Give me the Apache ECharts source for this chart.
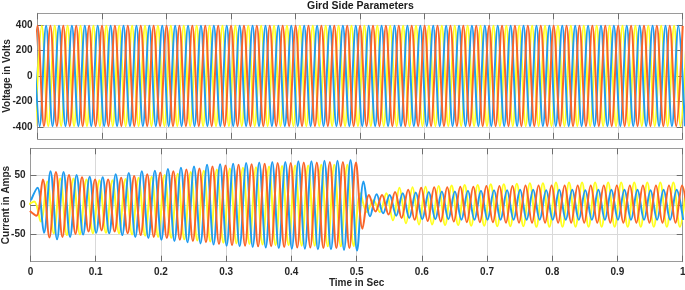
<!DOCTYPE html>
<html><head><meta charset="utf-8">
<script src="https://cdn.jsdelivr.net/npm/echarts@6/dist/echarts.min.js"></script>
<style>html,body{margin:0;padding:0;background:#fff}#c{width:685px;height:290px}</style>
</head><body><div id="c"></div>
<script>
// ---- axis / tick data ----
const timeMin = 0, timeMax = 1, timeStep = 0.1;
const voltTicks = [-400, -200, 0, 200, 400];
const currTicks = [-50, 0, 50];
const halfPeriod = 0.01;            // 50 Hz -> successive peaks every 10 ms

// ---- Voltage: successive half-cycle peak values (V) per phase ----
const voltStartA = -0.01, voltStartB = -0.00333, voltStartC = -0.00667;
const voltA = [-392,392,-392,392,-392,392,-392,392,-392,392,-392,392,-392,392,-392,392,-392,392,-392,392,
-392,392,-392,392,-392,392,-392,392,-392,392,-392,392,-392,392,-392,392,-392,392,-392,392,
-392,392,-392,392,-392,392,-392,392,-392,392,-392,392,-392,392,-392,392,-392,392,-392,392,
-392,392,-392,392,-392,392,-392,392,-392,392,-392,392,-392,392,-392,392,-392,392,-392,392,
-392,392,-392,392,-392,392,-392,392,-392,392,-392,392,-392,392,-392,392,-392,392,-392,392,-392,392];
const voltB = [-392,392,-392,392,-392,392,-392,392,-392,392,-392,392,-392,392,-392,392,-392,392,-392,392,
-392,392,-392,392,-392,392,-392,392,-392,392,-392,392,-392,392,-392,392,-392,392,-392,392,
-392,392,-392,392,-392,392,-392,392,-392,392,-392,392,-392,392,-392,392,-392,392,-392,392,
-392,392,-392,392,-392,392,-392,392,-392,392,-392,392,-392,392,-392,392,-392,392,-392,392,
-392,392,-392,392,-392,392,-392,392,-392,392,-392,392,-392,392,-392,392,-392,392,-392,392,-392,392];
const voltC = [392,-392,392,-392,392,-392,392,-392,392,-392,392,-392,392,-392,392,-392,392,-392,392,-392,
392,-392,392,-392,392,-392,392,-392,392,-392,392,-392,392,-392,392,-392,392,-392,392,-392,
392,-392,392,-392,392,-392,392,-392,392,-392,392,-392,392,-392,392,-392,392,-392,392,-392,
392,-392,392,-392,392,-392,392,-392,392,-392,392,-392,392,-392,392,-392,392,-392,392,-392,
392,-392,392,-392,392,-392,392,-392,392,-392,392,-392,392,-392,392,-392,392,-392,392,-392,392,-392];

// ---- Current: successive half-cycle peak values (A) per phase ----
const currStartBlue = 0.0007, currStartOrange = -0.001, currStartYellow = -0.0043;
const currBlue = [8,29,-47,57,-58,56,-54,51,-50,48,
-47,47,-48,52,-51,54,-54,57,-56,58,
-59,61,-61,63,-63,65,-65,68,-67,69,
-69,70,-70,71,-71,72,-72,73,-73,73,
-74,74,-74,74,-75,75,-75,75,-76,76,
-77,40,-19,18,-14,17,-18,20,-22,21,
-24,22,-24,23,-24,23,-25,24,-25,24,
-25,25,-25,25,-25,26,-25,26,-25,25,
-25,26,-25,26,-25,25,-25,26,-25,26,
-25,26,-25,26,-25,25,-25,26,-25,26,
-25];
const currOrange = [-10,-18,43,-55,56,-54,51,-49,47,-45,
43,-43,43,-45,46,-48,49,-51,52,-54,
55,-56,57,-59,60,-61,62,-63,65,-66,
67,-68,68,-69,69,-70,70,-70,71,-71,
71,-72,72,-72,72,-73,73,-73,73,-73,
72,-40,17,-11,17,-16,22,-22,26,-25,
29,-27,30,-28,30,-28,31,-29,31,-29,
32,-29,32,-30,32,-30,33,-30,33,-30,
33,-30,33,-30,33,-30,33,-30,33,-30,
33,-30,33,-30,33,-30,33,-30,33,-30,
33,-30];
const currYellow = [0,6,-28,40,-48,45,-51,45,-50,43,
-48,42,-47,42,-48,44,-50,46,-52,48,
-54,51,-56,53,-58,56,-60,58,-62,60,
-64,62,-65,63,-66,64,-67,65,-68,66,
-68,67,-69,67,-69,68,-70,68,-70,68,
-70,20,-12,8,-12,20,-26,29,-31,30,
-33,31,-33,32,-34,33,-34,34,-35,34,
-35,35,-36,35,-36,36,-36,37,-37,37,
-37,38,-37,38,-37,38,-37,38,-37,38,
-37,38,-37,38,-37,38,-37,38,-37,38,
-37,38];

// ---- build [time, value] pairs ----
function pairs(start, vals) { return vals.map((v, i) => [start + i * halfPeriod, v]); }

const FONT = "'Liberation Sans', Arial, Helvetica, sans-serif";
const TXT = '#262626', FRAME = '#9a9a9a', TICK = '#6e6e6e', GRID = '#d9d9d9';
const BLUE = '#1f9cf0', ORANGE = '#fa6428', YELLOW = '#ffff1e';

function xAx(grid, pos, labels) {
  return {
    type: 'value', gridIndex: grid, position: pos, min: timeMin, max: timeMax, interval: timeStep,
    nameMoveOverlap: false,
    axisLine: { show: true, onZero: false, lineStyle: { color: FRAME, width: 1 } },
    axisTick: { show: true, inside: true, length: 6, lineStyle: { color: TICK } },
    axisLabel: { show: labels, fontSize: 10, fontWeight: 'bold', color: TXT, fontFamily: FONT, margin: 6 },
    splitLine: { show: pos === 'bottom', lineStyle: { color: GRID, width: 1 } }
  };
}
function yAx(grid, pos, lo, hi, ticks, name, gap) {
  return {
    type: 'value', gridIndex: grid, position: pos, min: lo, max: hi,
    name: name || '', nameLocation: 'middle', nameGap: gap || 0, nameMoveOverlap: false,
    nameTextStyle: { fontSize: 10, fontWeight: 'bold', color: TXT, fontFamily: FONT },
    axisLine: { show: true, onZero: false, lineStyle: { color: FRAME, width: 1 } },
    axisTick: { show: true, inside: true, length: 6, customValues: ticks, lineStyle: { color: TICK } },
    axisLabel: { show: pos === 'left', customValues: ticks, fontSize: 10, fontWeight: 'bold', color: TXT, fontFamily: FONT, margin: 5 },
    splitLine: { show: pos === 'left', lineStyle: { color: GRID, width: 1 } }
  };
}
function ser(xi, yi, data, color) {
  return {
    type: 'line', xAxisIndex: xi, yAxisIndex: yi, data: data, showSymbol: false, smooth: 0.36,
    lineStyle: { color: color, width: 2 }, itemStyle: { color: color }, silent: true, animation: false
  };
}

const chart = echarts.init(document.getElementById('c'), null, { renderer: 'canvas' });
chart.setOption({
  animation: false,
  backgroundColor: '#ffffff',
  title: { text: 'Gird Side Parameters', left: 307, top: 1, padding: 0,
    textStyle: { fontSize: 10.5, fontWeight: 'bold', color: '#1a1a1a', fontFamily: FONT } },
  grid: [
    { left: 37.5, right: 2.3, top: 13.3, height: 125.5, outerBoundsMode: 'none', containLabel: false },
    { left: 30.5, right: 2.3, top: 148.3, height: 113.4, outerBoundsMode: 'none', containLabel: false }
  ],
  xAxis: [
    xAx(0, 'bottom', false),
    Object.assign(xAx(1, 'bottom', true), { name: 'Time in Sec', nameLocation: 'middle', nameGap: 17,
      nameTextStyle: { fontSize: 10, fontWeight: 'bold', color: TXT, fontFamily: FONT, verticalAlign: 'top' } }),
    xAx(0, 'top', false),
    xAx(1, 'top', false)
  ],
  yAxis: [
    yAx(0, 'left', -490, 490, voltTicks, 'Voltage in Volts', 25),
    yAx(1, 'left', -96, 96, currTicks, 'Current in Amps', 19),
    yAx(0, 'right', -490, 490, voltTicks),
    yAx(1, 'right', -96, 96, currTicks)
  ],
  series: [
    ser(0, 0, pairs(voltStartB, voltB), YELLOW),
    ser(0, 0, pairs(voltStartC, voltC), BLUE),
    ser(0, 0, pairs(voltStartA, voltA), ORANGE),
    ser(1, 1, pairs(currStartYellow, currYellow), YELLOW),
    ser(1, 1, pairs(currStartBlue, currBlue), BLUE),
    ser(1, 1, pairs(currStartOrange, currOrange), ORANGE)
  ]
});
</script></body></html>
